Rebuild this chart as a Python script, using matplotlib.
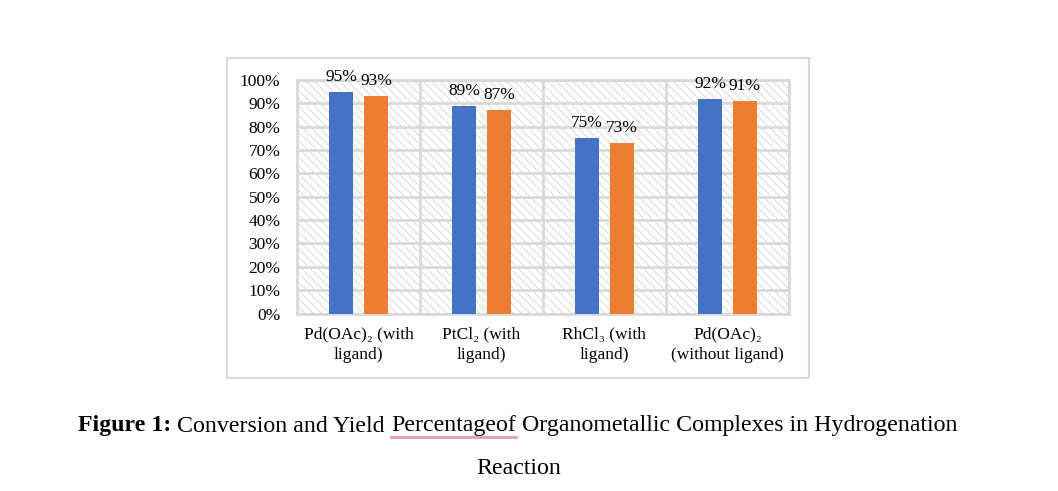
import matplotlib
matplotlib.use('Agg')
import matplotlib.pyplot as plt
from matplotlib.patches import Rectangle
from matplotlib.lines import Line2D
import numpy as np

categories = ["Pd(OAc)₂ (with\nligand)", "PtCl₂ (with\nligand)",
              "RhCl₃ (with\nligand)", "Pd(OAc)₂\n(without ligand)"]
conversion = [95, 89, 75, 92]
yield_pct = [93, 87, 73, 91]
yticks = list(range(0, 101, 10))
ytick_labels = [f"{v}%" for v in yticks]
caption_parts = [("Figure 1:", "bold"), (" Conversion and Yield ", "normal"),
                 ("Percentageof", "normal"),
                 (" Organometallic Complexes in Hydrogenation", "normal")]
caption_line2 = "Reaction"

plt.rcParams['font.family'] = ['Liberation Serif', 'DejaVu Serif']
plt.rcParams['hatch.linewidth'] = 0.6

W, H = 1058, 491
fig = plt.figure(figsize=(W / 100, H / 100), dpi=100)

# outer chart frame
fig.patches.append(Rectangle((227 / W, 1 - 378 / H), 582 / W, 320 / H,
                             transform=fig.transFigure, fill=False,
                             edgecolor='#d9d9d9', linewidth=1.5))

ax = fig.add_axes([297 / W, 1 - 313.5 / H, 492 / W, 233.5 / H])
x = np.arange(len(categories))
w = 0.19
off = 0.142
grid_c = '#d9d9d9'

bg = Rectangle((0, 0), 1, 1, transform=ax.transAxes, facecolor='white',
               edgecolor='#d4d4d4', hatch='\\\\\\\\', linewidth=0, zorder=0)
ax.add_patch(bg)

b1 = ax.bar(x - off, conversion, w, color='#4472C4', zorder=3)
b2 = ax.bar(x + off, yield_pct, w, color='#ED7D31', zorder=3)
for xi, v in zip(x - off, conversion):
    ax.annotate(f"{v}%", (xi, v), xytext=(0, 5), textcoords='offset points',
                ha='center', va='bottom', fontsize=12.5)
for xi, v in zip(x + off, yield_pct):
    ax.annotate(f"{v}%", (xi, v), xytext=(0, 5), textcoords='offset points',
                ha='center', va='bottom', fontsize=12.5)

ax.set_xlim(-0.5, len(categories) - 0.5)
ax.set_ylim(0, 100)
ax.set_yticks(yticks)
ax.set_yticklabels(ytick_labels, fontsize=12.5)
ax.set_xticks(x)
ax.set_xticklabels(categories, fontsize=12.5, linespacing=1.45)
ax.set_xticks(np.arange(-0.5, len(categories), 1), minor=True)
ax.tick_params(axis='both', which='both', length=0)
ax.tick_params(axis='y', pad=12)
ax.tick_params(axis='x', pad=9)
ax.set_axisbelow(True)
ax.yaxis.grid(True, color=grid_c, linewidth=2)
ax.xaxis.grid(True, which='minor', color=grid_c, linewidth=2)
ax.xaxis.grid(False, which='major')
for s in ax.spines.values():
    s.set_color(grid_c)
    s.set_linewidth(2)

# caption
renderer = fig.canvas.get_renderer()
base_fs = 16
texts = []
for s, wt in caption_parts:
    t = fig.text(0, 0, s, fontsize=base_fs, fontweight=wt, va='baseline', ha='left')
    texts.append(t)
widths = [t.get_window_extent(renderer).width for t in texts]
target = 880.0
fs = base_fs * target / sum(widths)
for t in texts:
    t.set_fontsize(fs)
widths = [t.get_window_extent(renderer).width for t in texts]
x0 = 78.0
y_base = 1 - 431.5 / H
pos = x0
for i, t in enumerate(texts):
    t.set_position((pos / W, y_base))
    if i == 2:
        fig.lines.append(Line2D([pos / W, (pos + widths[i]) / W],
                                [1 - 436.5 / H, 1 - 436.5 / H],
                                transform=fig.transFigure, color='#e899b4',
                                linewidth=2))
    pos += widths[i]
fig.text(519 / W, 1 - 474 / H, caption_line2, fontsize=fs, ha='center', va='baseline')

fig.savefig('out.png', dpi=100)
